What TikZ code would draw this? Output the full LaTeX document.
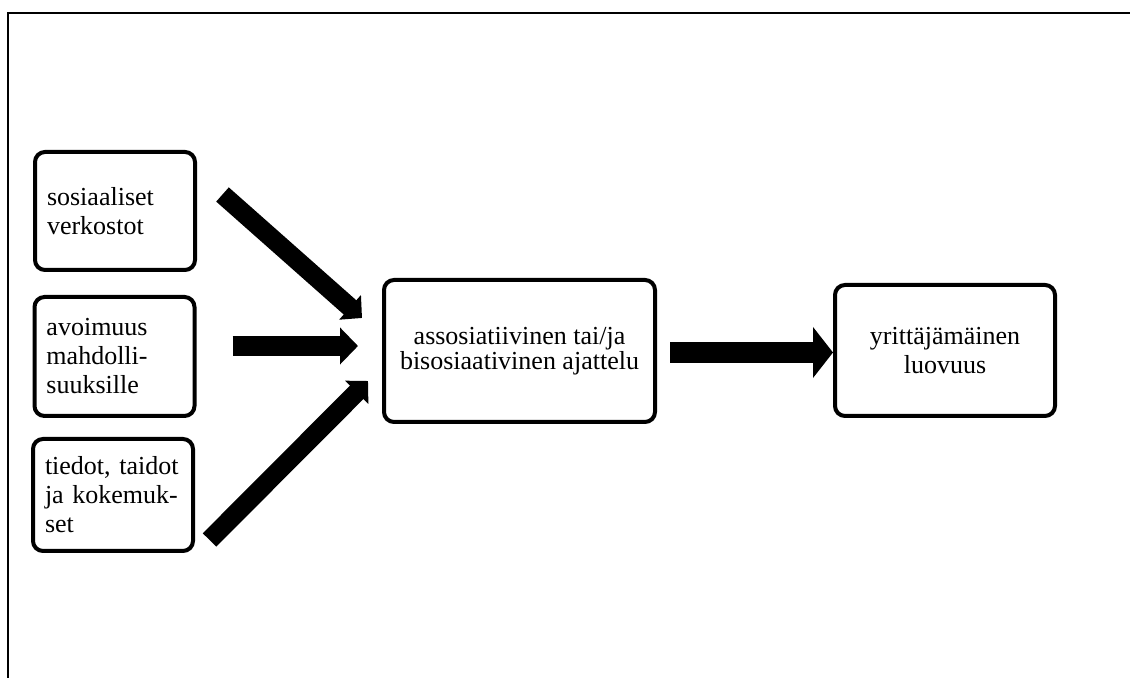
\documentclass[tikz,border=0pt]{standalone}
\usepackage{fontspec}
\setmainfont{Liberation Serif}
\usetikzlibrary{arrows.meta}
\begin{document}
\begin{tikzpicture}[x=0.5pt, y=0.5pt, font=\fontsize{13}{14.5}\selectfont,
		box/.style={draw, line width=2pt, rounded corners=5pt},
		lbox/.style={box, align=left, text width=68pt, inner xsep=6pt},
		fat/.style={line width=9.5pt, -{Triangle[length=8pt,width=16pt]}}]
	\useasboundingbox (0,0) rectangle (1130,678);
	\draw[line width=1.1pt] (8,0)--(8,665)--(1130,665);
	% sisaantulot
	\node[lbox, minimum height=59pt] (verk) at (115,467) {sosiaaliset\\verkostot};
	\node[lbox, minimum height=59.5pt] (avoin) at (114.5,321.5) {avoimuus\\mahdolli-\\suuksille};
	\node[lbox, minimum height=56pt] (tied) at (113,183) {tiedot, taidot\\ja kokemuk-\\set};
	\node[box, align=center, minimum width=135.5pt, minimum height=71pt, font=\fontsize{13}{12.5}\selectfont] (ajat) at (519.5,327) {assosiatiivinen tai/ja\\bisosiaativinen ajattelu};
	\node[box, align=center, minimum width=110pt, minimum height=65.5pt] (luov) at (945,327.5) {yrittäjämäinen\\luovuus};
	% nuolet
	\draw[fat] ([shift={(25.5,16.5)}]verk.east) -- ([shift={(-20,33)}]ajat.west);
	\draw[fat, line width=10pt, -{Triangle[length=9pt,width=18pt]}] ([shift={(36,10.5)}]avoin.east) -- ([shift={(-24,5)}]ajat.west);
	\draw[fat] ([shift={(14.5,-45)}]tied.east) -- ([shift={(-14,-30)}]ajat.west);
	\draw[fat, line width=10.5pt, -{Triangle[length=10pt,width=25pt]}] ([shift={(13,-1.5)}]ajat.east) -- ([shift={(0,-2)}]luov.west);
\end{tikzpicture}
\end{document}
